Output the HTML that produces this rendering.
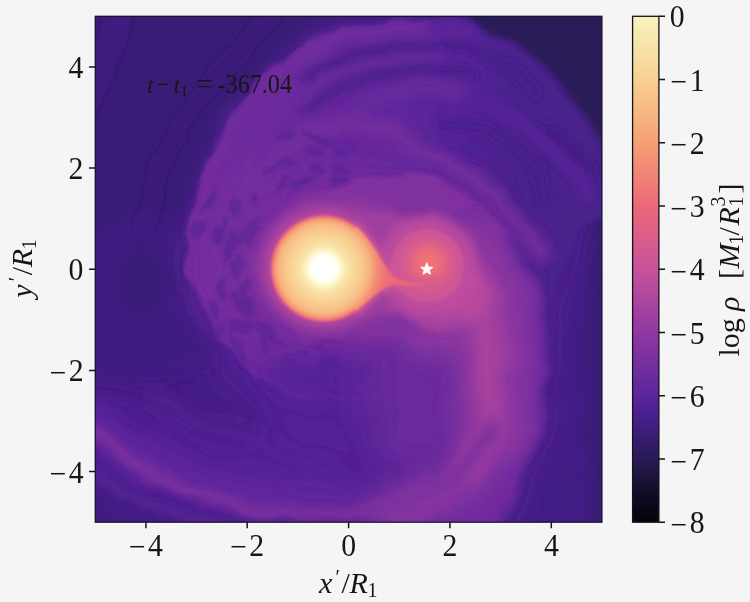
<!DOCTYPE html>
<html><head><meta charset="utf-8"><title>density plot</title>
<style>
html,body{margin:0;padding:0;background:#f5f5f5;}
body{width:750px;height:602px;overflow:hidden;position:relative;font-family:"Liberation Serif","DejaVu Serif",serif;}
svg{position:absolute;left:0;top:0;display:block}
text{font-family:"Liberation Serif","DejaVu Serif",serif;fill:#161616}
.tk{font-size:31px}
.lb{font-size:30px}
.sb{font-size:20px}
.it{font-style:italic}
</style></head><body>
<svg width="750" height="602" viewBox="0 0 750 602">
<defs>
<linearGradient id="magma" x1="0" y1="0" x2="0" y2="1">
<stop offset="0" stop-color="#f6f4bc"/><stop offset="0.125" stop-color="#f9d092"/><stop offset="0.25" stop-color="#f6a074"/><stop offset="0.375" stop-color="#ec6878"/><stop offset="0.5" stop-color="#c8529c"/><stop offset="0.625" stop-color="#9038a0"/><stop offset="0.75" stop-color="#5c259c"/><stop offset="0.78125" stop-color="#4c2190"/><stop offset="0.8125" stop-color="#3f1e80"/><stop offset="0.84375" stop-color="#331c6a"/><stop offset="0.875" stop-color="#281a55"/><stop offset="0.90625" stop-color="#1e1440"/><stop offset="0.9375" stop-color="#130c28"/><stop offset="1" stop-color="#040308"/>
</linearGradient>
<filter id="b1" filterUnits="userSpaceOnUse" x="0" y="0" width="750" height="602"><feGaussianBlur stdDeviation="0.9"/></filter>
<filter id="b2" filterUnits="userSpaceOnUse" x="0" y="0" width="750" height="602"><feGaussianBlur stdDeviation="1.8"/></filter>
<filter id="b3" filterUnits="userSpaceOnUse" x="0" y="0" width="750" height="602"><feGaussianBlur stdDeviation="3"/></filter>
<filter id="b4" filterUnits="userSpaceOnUse" x="0" y="0" width="750" height="602"><feGaussianBlur stdDeviation="4"/></filter>
<filter id="b5" filterUnits="userSpaceOnUse" x="0" y="0" width="750" height="602"><feGaussianBlur stdDeviation="5"/></filter>
<filter id="b6" filterUnits="userSpaceOnUse" x="0" y="0" width="750" height="602"><feGaussianBlur stdDeviation="6"/></filter>
<filter id="b8" filterUnits="userSpaceOnUse" x="0" y="0" width="750" height="602"><feGaussianBlur stdDeviation="8"/></filter>
<filter id="b10" filterUnits="userSpaceOnUse" x="0" y="0" width="750" height="602"><feGaussianBlur stdDeviation="11"/></filter>
<filter id="b14" filterUnits="userSpaceOnUse" x="0" y="0" width="750" height="602"><feGaussianBlur stdDeviation="15"/></filter>
<filter id="b18" filterUnits="userSpaceOnUse" x="0" y="0" width="750" height="602"><feGaussianBlur stdDeviation="20"/></filter>
<radialGradient id="pstar"><stop offset="0" stop-color="#ffffff"/><stop offset="0.17" stop-color="#ffffff"/><stop offset="0.25" stop-color="#fffff0"/><stop offset="0.33" stop-color="#fdf4c0"/><stop offset="0.436" stop-color="#f8e2a7"/><stop offset="0.58" stop-color="#f9d497"/><stop offset="0.727" stop-color="#f8c48a"/><stop offset="0.818" stop-color="#f7b682"/><stop offset="0.873" stop-color="#f6a276"/><stop offset="0.918" stop-color="#f28776"/><stop offset="0.955" stop-color="#e16183"/><stop offset="1" stop-color="#c24f9c" stop-opacity="0"/></radialGradient>
<radialGradient id="pglow"><stop offset="0" stop-color="#c24f9c"/><stop offset="0.7" stop-color="#c04e9d"/><stop offset="0.8" stop-color="#ac459e" stop-opacity="0.8"/><stop offset="1" stop-color="#9038a0" stop-opacity="0"/></radialGradient>
<radialGradient id="sglow"><stop offset="0" stop-color="#ee7077"/><stop offset="0.22" stop-color="#ec6878"/><stop offset="0.33" stop-color="#df6085"/><stop offset="0.5" stop-color="#cf5695"/><stop offset="0.58" stop-color="#c5519c"/><stop offset="0.74" stop-color="#b74a9d" stop-opacity="0.9"/><stop offset="0.86" stop-color="#ac459e" stop-opacity="0.5"/><stop offset="1" stop-color="#a1409f" stop-opacity="0"/></radialGradient>
<linearGradient id="shellg" gradientUnits="userSpaceOnUse" x1="190" y1="0" x2="600" y2="0"><stop offset="0" stop-color="#702c9e"/><stop offset="0.45" stop-color="#62279c"/><stop offset="0.62" stop-color="#572498"/><stop offset="0.8" stop-color="#4a218e"/><stop offset="1" stop-color="#47208a"/></linearGradient>
<radialGradient id="fun" gradientUnits="userSpaceOnUse" cx="324" cy="268.5" r="115"><stop offset="0.365" stop-color="#f8c289" stop-opacity="0"/><stop offset="0.400" stop-color="#f7b380" stop-opacity="1"/><stop offset="0.435" stop-color="#f59a74" stop-opacity="1"/><stop offset="0.478" stop-color="#f18476" stop-opacity="1"/><stop offset="0.548" stop-color="#ee7077" stop-opacity="1"/><stop offset="0.643" stop-color="#ec6878" stop-opacity="1"/><stop offset="0.870" stop-color="#ea677a" stop-opacity="0.9"/><stop offset="0.974" stop-color="#e8667c" stop-opacity="0.5"/></radialGradient>
<filter id="warp" filterUnits="userSpaceOnUse" x="60" y="0" width="580" height="560"><feTurbulence type="fractalNoise" baseFrequency="0.022" numOctaves="3" seed="11" result="n"/><feDisplacementMap in="SourceGraphic" in2="n" scale="16" xChannelSelector="R" yChannelSelector="G"/></filter>

<clipPath id="pc"><rect x="95" y="16" width="507" height="506"/></clipPath>
</defs>
<rect x="0" y="0" width="750" height="602" fill="#f5f5f5"/>
<!-- IMAGE -->
<g id="img" clip-path="url(#pc)">
<g filter="url(#warp)"><!--BGSTART-->
<rect x="60" y="0" width="580" height="560" fill="#48208b"/>
<g filter="url(#b14)" >
<path d="M150,300 L560,290 L548,340 L540,420 L500,540 L80,540 L80,400 Z" fill="#522395" />
</g>
<g filter="url(#b14)" >
<path d="M80,340 L200,330 L225,372 L250,400 L272,430 L240,446 L160,420 L80,390 Z" fill="#441f86" />
</g>
<g filter="url(#b8)" >
<path d="M80,0 L560,0 L560,10 L360,14 L325,24 L290,46 L262,74 L236,112 L210,150 L196,185 L186,225 L186,290 L200,330 L215,360 L150,380 L80,380 Z" fill="#411e82" />
<path d="M80,0 L560,0 L560,8 L360,12 L320,22 L285,44 L256,72 L230,110 L204,150 L180,215 L80,230 Z" fill="#391d75" />
<path d="M620,170 L620,540 L515,540 L545,470 L566,400 L566,300 L588,235 Z" fill="#431f85" />
<rect x="590" y="160" width="24" height="380" fill="#361d70"/>
<path d="M80,485 L130,540 L80,540 Z" fill="#2c1b5d" />
<ellipse cx="140" cy="283" rx="24" ry="32" fill="#391d75"/>
</g>
<g filter="url(#b6)" fill="none" stroke-linecap="round" stroke-linejoin="round">
<path d="M275,14 Q222,66 182,124 Q154,170 142,235" stroke="#3d1e7c" stroke-width="11"/>
</g>
<g filter="url(#b8)" fill="none" stroke-linecap="round" stroke-linejoin="round">
<path d="M80,120 Q100,60 120,10" stroke="#441f86" stroke-width="16"/>
</g>
<g filter="url(#b2)" >
<path d="M184,275 L187,235 L193,209 L199,186 L207,161 L228,125 L249,92 L263,72 L298,47 L330,34 L361,25 L380,22 L420,20 L467,17 L507,39 L542,66 L575,104 L612,150 L612,210 L576,232 L553,290 L552,387 L532,467 L505,540 L400,540 L400,402 L300,398 L256,377 L218,339 L197,285 Z" fill="url(#shellg)"/>
</g>
<g filter="url(#b3)" >
<path d="M464,0 L620,0 L620,166 L602,142 L575,104 L542,66 L507,39 L467,18 Z" fill="#2a1a59" />
</g>
<g filter="url(#b5)" fill="none" stroke-linecap="round" stroke-linejoin="round">
<path d="M196,240 Q200,196 216,160 Q238,120 270,78 Q300,50 338,37 Q375,29 420,27" stroke="#732e9e" stroke-width="9"/>
<path d="M420,34 Q450,30 470,30" stroke="#5f269c" stroke-width="9"/>
<path d="M330,127 Q380,92 421,88 Q450,90 470,96" stroke="#66299d" stroke-width="15"/>
<path d="M470,96 Q511,112 540,140 Q566,162 588,192" stroke="#572498" stroke-width="14"/>
<path d="M307,89 Q335,72 364,64 Q400,55 440,52" stroke="#66299d" stroke-width="9"/>
<path d="M300,80 Q321,64 378,50 Q420,44 460,46" stroke="#421f83" stroke-width="8"/>
<path d="M302,109 Q325,94 350,84 Q380,74 420,70 Q450,72 470,78" stroke="#451f88" stroke-width="8"/>
<path d="M470,52 Q505,62 535,92" stroke="#431f85" stroke-width="8"/>
<path d="M440,122 Q490,128 519,148 Q540,170 548,200" stroke="#441f86" stroke-width="7"/>
<path d="M548,126 Q575,150 592,172" stroke="#401e81" stroke-width="9"/>
<path d="M470,150 Q510,175 525,215" stroke="#49208d" stroke-width="7"/>
</g>
<g filter="url(#b18)" >
<ellipse cx="360" cy="262" rx="160" ry="92" fill="#792f9e"/>
</g>
<g filter="url(#b10)" >
<ellipse cx="300" cy="156" rx="36" ry="18" fill="#6c2b9d" transform="rotate(-30 300 156)"/>
<ellipse cx="240" cy="225" rx="28" ry="70" fill="#732e9e" transform="rotate(12 240 225)"/>
<ellipse cx="262" cy="120" rx="22" ry="50" fill="#6c2b9d" transform="rotate(40 262 120)"/>
</g>
<g filter="url(#b6)" fill="none" stroke-linecap="round" stroke-linejoin="round">
<path d="M250,205 Q262,170 307,134 Q330,124 350,124 Q380,128 400,138 Q425,148 445,162 Q480,180 505,205 Q530,228 545,255" stroke="#732e9e" stroke-width="15"/>
</g>
<g filter="url(#b10)" >
<ellipse cx="335" cy="380" rx="75" ry="24" fill="#572498" transform="rotate(5 335 380)"/>
</g>
<g filter="url(#b2)" opacity="0.5">
<ellipse cx="235.7" cy="273.4" rx="3.9" ry="5.5" fill="#4f2292" transform="rotate(-1 235.7 273.4)"/>
<ellipse cx="240.9" cy="263.4" rx="3.5" ry="5.3" fill="#4f2292"/>
<ellipse cx="262.6" cy="327.4" rx="3.3" ry="10.8" fill="#4f2292" transform="rotate(-63 262.6 327.4)"/>
<ellipse cx="215.3" cy="306.5" rx="4.7" ry="9.0" fill="#4f2292" transform="rotate(-24 215.3 306.5)"/>
<ellipse cx="340.0" cy="187.5" rx="4.4" ry="7.0" fill="#4f2292" transform="rotate(83 340.0 187.5)"/>
<ellipse cx="245.5" cy="325.9" rx="4.3" ry="6.3" fill="#4f2292" transform="rotate(-32 245.5 325.9)"/>
<ellipse cx="255.5" cy="194.5" rx="3.6" ry="5.4" fill="#4f2292" transform="rotate(25 255.5 194.5)"/>
<ellipse cx="214.5" cy="312.8" rx="3.3" ry="7.2" fill="#4f2292" transform="rotate(-18 214.5 312.8)"/>
<ellipse cx="231.7" cy="239.4" rx="4.3" ry="9.9" fill="#4f2292" transform="rotate(5 231.7 239.4)"/>
<ellipse cx="236.5" cy="202.8" rx="4.5" ry="10.1" fill="#4f2292" transform="rotate(26 236.5 202.8)"/>
<ellipse cx="341.8" cy="183.7" rx="3.3" ry="10.3" fill="#4f2292" transform="rotate(84 341.8 183.7)"/>
<ellipse cx="248.5" cy="236.1" rx="3.9" ry="10.4" fill="#4f2292" transform="rotate(27 248.5 236.1)"/>
<ellipse cx="315.6" cy="171.3" rx="4.0" ry="9.2" fill="#4f2292" transform="rotate(89 315.6 171.3)"/>
<ellipse cx="203.2" cy="229.3" rx="4.7" ry="8.3" fill="#4f2292" transform="rotate(26 203.2 229.3)"/>
<ellipse cx="240.1" cy="353.3" rx="3.9" ry="12.0" fill="#4f2292" transform="rotate(-29 240.1 353.3)"/>
<ellipse cx="223.8" cy="285.2" rx="3.9" ry="5.2" fill="#4f2292" transform="rotate(-11 223.8 285.2)"/>
<ellipse cx="247.7" cy="309.3" rx="2.4" ry="10.4" fill="#4f2292" transform="rotate(-47 247.7 309.3)"/>
<ellipse cx="225.8" cy="295.5" rx="4.5" ry="5.6" fill="#4f2292" transform="rotate(-18 225.8 295.5)"/>
<ellipse cx="215.3" cy="198.2" rx="4.3" ry="11.0" fill="#4f2292" transform="rotate(22 215.3 198.2)"/>
<ellipse cx="225.9" cy="248.6" rx="4.5" ry="11.7" fill="#4f2292" transform="rotate(-6 225.9 248.6)"/>
<ellipse cx="241.0" cy="310.4" rx="2.8" ry="8.4" fill="#4f2292" transform="rotate(-22 241.0 310.4)"/>
<ellipse cx="245.8" cy="286.5" rx="3.3" ry="7.6" fill="#4f2292" transform="rotate(-10 245.8 286.5)"/>
<ellipse cx="339.5" cy="150.8" rx="3.5" ry="9.3" fill="#4f2292" transform="rotate(106 339.5 150.8)"/>
<ellipse cx="234.0" cy="362.9" rx="4.2" ry="11.1" fill="#4f2292" transform="rotate(-31 234.0 362.9)"/>
<ellipse cx="222.6" cy="254.6" rx="2.5" ry="9.4" fill="#4f2292" transform="rotate(-14 222.6 254.6)"/>
<ellipse cx="258.3" cy="332.5" rx="2.6" ry="7.4" fill="#4f2292" transform="rotate(-67 258.3 332.5)"/>
<ellipse cx="273.2" cy="340.9" rx="2.5" ry="7.5" fill="#4f2292" transform="rotate(-79 273.2 340.9)"/>
<ellipse cx="313.8" cy="154.6" rx="2.6" ry="6.8" fill="#4f2292" transform="rotate(77 313.8 154.6)"/>
<ellipse cx="237.3" cy="263.6" rx="4.4" ry="12.0" fill="#4f2292" transform="rotate(2 237.3 263.6)"/>
<ellipse cx="245.6" cy="236.2" rx="2.5" ry="7.4" fill="#4f2292" transform="rotate(11 245.6 236.2)"/>
<ellipse cx="304.9" cy="181.5" rx="2.3" ry="11.7" fill="#4f2292" transform="rotate(79 304.9 181.5)"/>
<ellipse cx="229.9" cy="326.3" rx="2.3" ry="8.7" fill="#4f2292" transform="rotate(-8 229.9 326.3)"/>
<ellipse cx="309.8" cy="150.4" rx="2.9" ry="7.6" fill="#4f2292" transform="rotate(66 309.8 150.4)"/>
<ellipse cx="283.8" cy="166.3" rx="4.2" ry="7.3" fill="#4f2292" transform="rotate(55 283.8 166.3)"/>
<ellipse cx="288.7" cy="138.0" rx="4.4" ry="10.6" fill="#4f2292" transform="rotate(91 288.7 138.0)"/>
<ellipse cx="282.5" cy="185.6" rx="3.5" ry="7.5" fill="#4f2292" transform="rotate(40 282.5 185.6)"/>
<ellipse cx="263.2" cy="342.3" rx="2.9" ry="9.8" fill="#4f2292" transform="rotate(-28 263.2 342.3)"/>
<ellipse cx="197.0" cy="230.8" rx="4.8" ry="11.7" fill="#4f2292" transform="rotate(10 197.0 230.8)"/>
<ellipse cx="236.7" cy="299.8" rx="2.7" ry="6.4" fill="#4f2292" transform="rotate(-14 236.7 299.8)"/>
<ellipse cx="321.9" cy="141.5" rx="3.4" ry="9.6" fill="#4f2292" transform="rotate(104 321.9 141.5)"/>
<ellipse cx="236.3" cy="345.9" rx="4.6" ry="10.5" fill="#4f2292" transform="rotate(-29 236.3 345.9)"/>
<ellipse cx="240.3" cy="235.5" rx="4.3" ry="7.3" fill="#4f2292" transform="rotate(37 240.3 235.5)"/>
<ellipse cx="342.6" cy="168.0" rx="3.2" ry="11.6" fill="#4f2292" transform="rotate(112 342.6 168.0)"/>
<ellipse cx="246.9" cy="309.1" rx="2.6" ry="11.3" fill="#4f2292" transform="rotate(-12 246.9 309.1)"/>
<ellipse cx="216.5" cy="334.7" rx="4.7" ry="9.6" fill="#4f2292" transform="rotate(-39 216.5 334.7)"/>
<ellipse cx="250.6" cy="221.2" rx="2.2" ry="11.8" fill="#4f2292" transform="rotate(40 250.6 221.2)"/>
<ellipse cx="208.6" cy="203.9" rx="3.3" ry="11.1" fill="#4f2292" transform="rotate(46 208.6 203.9)"/>
<ellipse cx="236.3" cy="302.6" rx="3.0" ry="6.7" fill="#4f2292" transform="rotate(-17 236.3 302.6)"/>
<ellipse cx="223.4" cy="292.7" rx="2.5" ry="11.4" fill="#4f2292" transform="rotate(-21 223.4 292.7)"/>
<ellipse cx="217.0" cy="233.1" rx="4.6" ry="7.9" fill="#4f2292" transform="rotate(39 217.0 233.1)"/>
<ellipse cx="224.7" cy="221.6" rx="3.6" ry="5.1" fill="#4f2292" transform="rotate(22 224.7 221.6)"/>
<ellipse cx="251.7" cy="303.3" rx="4.3" ry="6.2" fill="#4f2292" transform="rotate(-27 251.7 303.3)"/>
<ellipse cx="270.2" cy="171.2" rx="3.0" ry="8.6" fill="#4f2292" transform="rotate(64 270.2 171.2)"/>
<ellipse cx="295.3" cy="187.5" rx="3.7" ry="6.7" fill="#4f2292" transform="rotate(59 295.3 187.5)"/>
<ellipse cx="284.4" cy="167.6" rx="3.7" ry="10.3" fill="#4f2292" transform="rotate(89 284.4 167.6)"/>
<ellipse cx="214.1" cy="237.1" rx="3.5" ry="8.6" fill="#4f2292" transform="rotate(26 214.1 237.1)"/>
<ellipse cx="219.1" cy="235.7" rx="3.4" ry="11.6" fill="#4f2292" transform="rotate(27 219.1 235.7)"/>
<ellipse cx="313.0" cy="136.2" rx="2.9" ry="8.9" fill="#4f2292" transform="rotate(107 313.0 136.2)"/>
<ellipse cx="307.9" cy="182.3" rx="2.5" ry="8.1" fill="#4f2292" transform="rotate(58 307.9 182.3)"/>
<ellipse cx="243.4" cy="292.4" rx="3.9" ry="10.5" fill="#4f2292" transform="rotate(3 243.4 292.4)"/>
<ellipse cx="220.3" cy="329.1" rx="3.9" ry="6.0" fill="#4f2292" transform="rotate(-11 220.3 329.1)"/>
<ellipse cx="339.7" cy="177.6" rx="4.7" ry="7.8" fill="#4f2292" transform="rotate(99 339.7 177.6)"/>
<ellipse cx="353.3" cy="145.3" rx="2.6" ry="8.0" fill="#4f2292" transform="rotate(104 353.3 145.3)"/>
<ellipse cx="233.0" cy="269.7" rx="3.0" ry="10.1" fill="#4f2292" transform="rotate(-25 233.0 269.7)"/>
<ellipse cx="236.9" cy="210.5" rx="2.2" ry="7.3" fill="#4f2292" transform="rotate(40 236.9 210.5)"/>
<ellipse cx="249.5" cy="230.6" rx="4.8" ry="10.5" fill="#4f2292" transform="rotate(51 249.5 230.6)"/>
<ellipse cx="249.5" cy="327.2" rx="2.3" ry="10.5" fill="#4f2292" transform="rotate(-50 249.5 327.2)"/>
<ellipse cx="238.3" cy="326.9" rx="4.6" ry="10.7" fill="#4f2292" transform="rotate(-46 238.3 326.9)"/>
<ellipse cx="211.4" cy="336.4" rx="3.7" ry="9.9" fill="#4f2292" transform="rotate(-52 211.4 336.4)"/>
<ellipse cx="241.4" cy="353.5" rx="3.3" ry="5.5" fill="#4f2292" transform="rotate(-24 241.4 353.5)"/>
<ellipse cx="268" cy="335" rx="7" ry="3" fill="#4f2292" transform="rotate(10 268 335)"/>
<ellipse cx="300" cy="350" rx="8" ry="3.5" fill="#4f2292"/>
<ellipse cx="335" cy="362" rx="10" ry="4" fill="#4f2292"/>
<ellipse cx="362" cy="372" rx="9" ry="3.5" fill="#4f2292"/>
<ellipse cx="398" cy="328" rx="9" ry="6" fill="#4f2292"/>
<ellipse cx="318" cy="345" rx="6" ry="3" fill="#4f2292"/>
<ellipse cx="285" cy="358" rx="7" ry="3" fill="#4f2292" transform="rotate(15 285 358)"/>
</g>
<g filter="url(#b18)" >
<ellipse cx="425" cy="385" rx="60" ry="95" fill="#692a9d"/>
</g>
<g filter="url(#b14)" >
<ellipse cx="372" cy="264" rx="116" ry="54" fill="#9339a0"/>
<ellipse cx="445" cy="305" rx="58" ry="50" fill="#963ba0"/>
</g>
<g filter="url(#b5)" >
<path d="M262,262 Q262,228 290,205 Q310,193 330,194 Q352,184 375,179 Q398,176 420,179 Q445,184 465,197 Q483,211 497,230 Q509,248 515,265 Q522,282 523,305 L500,335 L300,335 Z" fill="#80329f" />
</g>
<g filter="url(#b3)" fill="none" stroke-linecap="round" stroke-linejoin="round">
<path d="M330,194 Q352,184 375,179 Q398,176 420,179 Q445,184 465,197 Q483,211 497,230 Q509,248 515,265 Q521,280 523,300" stroke="#8a36a0" stroke-width="4"/>
</g>
<g filter="url(#b5)" >
<path d="M350,216 L406,221 L435,216 L468,224 L491,244 L508,278 L518,308 L505,335 L440,330 L350,300 Z" fill="#a6429e" />
</g>
<g filter="url(#b8)" >
<ellipse cx="345" cy="262" rx="80" ry="56" fill="#a1409f"/>
</g>
<g filter="url(#b4)" >
<path d="M477,200 L514,247 L536,284 L543,328 L547,375 L540,420 L525,467 L500,530 L440,530 L470,467 L490,420 L496,375 L494,328 L486,284 L466,247 L440,222 Z" fill="#702c9e" />
</g>
<g filter="url(#b10)" fill="none" stroke-linecap="round" stroke-linejoin="round">
<path d="M80,418 L95,428 Q120,446 149,460 Q175,471 203,479 Q230,487 257,493 Q285,498 311,501 Q340,502 365,501 Q395,496 419,487 Q445,475 462,460" stroke="#64289d" stroke-width="26"/>
<path d="M150,395 Q220,440 330,470" stroke="#562397" stroke-width="12"/>
<path d="M490,423 Q482,462 455,488 Q425,510 390,518" stroke="#712d9e" stroke-width="60"/>
<path d="M466,250 Q490,285 492,330 Q498,380 490,430" stroke="#86349f" stroke-width="74"/>
<path d="M489,423 Q482,456 458,482 Q428,506 392,516" stroke="#8b36a0" stroke-width="30"/>
<path d="M468,258 Q486,290 488,330 Q495,380 489,423 Q484,445 472,465" stroke="#9339a0" stroke-width="42"/>
</g>
<g filter="url(#b8)" fill="none" stroke-linecap="round" stroke-linejoin="round">
<path d="M474,280 Q486,300 487,330 Q493,380 488,420" stroke="#ac459e" stroke-width="20"/>
<path d="M488,420 Q484,445 470,468" stroke="#9b3d9f" stroke-width="16"/>
</g>
<g filter="url(#b8)" >
<ellipse cx="462" cy="294" rx="24" ry="30" fill="#ba4c9d"/>
</g>
<g filter="url(#b5)" fill="none" stroke-linecap="round" stroke-linejoin="round">
<path d="M80,428 L95,438 Q120,457 149,472 Q175,484 203,494 Q230,502 257,508 Q285,513 311,514.5 Q340,515 365,513 Q395,508 419,498 Q445,486 462,470 Q480,450 489,432" stroke="#7b309e" stroke-width="12"/>
</g>
<g filter="url(#b6)" opacity="0.8">
<path d="M80,462 Q150,502 230,520 Q300,530 380,530 L380,540 L80,540 Z" fill="#3f1e80" />
</g>
<g filter="url(#b4)" fill="none" stroke-linecap="round" stroke-linejoin="round">
<path d="M80,470 Q120,496 170,512 Q200,520 230,526" stroke="#5c259c" stroke-width="7"/>
</g>
</g>
<circle cx="324" cy="268.5" r="72" fill="url(#pglow)"/>
<g filter="url(#b5)" >
<circle cx="428" cy="266" r="50" fill="#be4d9d" opacity="0.85"/>
</g>
<g filter="url(#b2)" >
<circle cx="427.3" cy="266" r="37" fill="#cd5597"/>
</g>
<g filter="url(#b4)" >
<circle cx="427.8" cy="265" r="28" fill="#d65b8e"/>
</g>
<g filter="url(#b4)" >
<circle cx="428.2" cy="263.5" r="20" fill="#e5647f"/>
</g>
<g filter="url(#b4)" >
<circle cx="428.4" cy="263" r="13" fill="#ee7377"/>
</g>
<g filter="url(#b3)" >
<path d="M344,242 L356.5,227 Q368,238 377,252 Q385,267 393,276 Q402,281.5 414,283 Q424,283.3 430,281 Q433,279 434,276 Q432,283 422,285.2 Q408,286 395,284.5 Q386,286 376,294 Q365,303 356.5,311 L344,296 Z" fill="#d35991" stroke="#d35991" stroke-width="5"/>
</g>
<circle cx="324" cy="268.5" r="55" fill="url(#pstar)"/>
<g filter="url(#b1)" >
<path d="M344,242 L356.5,227 Q368,238 377,252 Q385,267 393,276 Q402,281.5 414,283 Q424,283.3 430,281 Q433,279 434,276 Q432,283 422,285.2 Q408,286 395,284.5 Q386,286 376,294 Q365,303 356.5,311 L344,296 Z" fill="url(#fun)"/>
</g>
<path d="M426.8,263.2 L428.3,267.1 L432.4,267.3 L429.2,269.9 L430.3,273.9 L426.8,271.6 L423.3,273.9 L424.4,269.9 L421.2,267.3 L425.3,267.1 Z" fill="#fff8f6" stroke="#fff8f6" stroke-width="1.3" stroke-linejoin="round"/>

</g>
<!-- axes frame -->
<rect x="95.3" y="16.3" width="506.6" height="505.9" fill="none" stroke="#1c1230" stroke-width="1.3"/>
<!-- colorbar -->
<rect x="632.6" y="16.3" width="26.3" height="505.9" fill="url(#magma)" stroke="#15121c" stroke-width="1.3"/>
<g stroke="#161616" stroke-width="1.5">
<path d="M145.9 522v6.2M247.2 522v6.2M348.6 522v6.2M449.9 522v6.2M551.3 522v6.2"/>
<path d="M95 66.9h-6M95 168h-6M95 269.2h-6M95 370.4h-6M95 471.6h-6"/>
<path d="M659 16.3h6M659 79.5h6M659 142.8h6M659 206h6M659 269.2h6M659 332.5h6M659 395.7h6M659 459h6M659 522.2h6"/>
</g>
<g class="tk" text-anchor="middle" transform="scale(0.96,1)">
<text x="153.0" y="555.7"><tspan dy="1.6" dx="-1.2">−</tspan><tspan dy="-1.6" dx="2.6">4</tspan></text><text x="258.5" y="555.7"><tspan dy="1.6" dx="-1.2">−</tspan><tspan dy="-1.6" dx="2.6">2</tspan></text><text x="363.1" y="555.7">0</text><text x="468.6" y="555.7">2</text><text x="574.3" y="555.7">4</text>
</g>
<g class="tk" text-anchor="end" transform="scale(0.96,1)">
<text x="86.8" y="78.0">4</text><text x="86.8" y="179.1">2</text><text x="86.8" y="280.3">0</text><text x="88.4" y="381.5"><tspan dy="1.6" dx="-1.2">−</tspan><tspan dy="-1.6" dx="2.6">2</tspan></text><text x="88.4" y="482.7"><tspan dy="1.6" dx="-1.2">−</tspan><tspan dy="-1.6" dx="2.6">4</tspan></text>
</g>
<g class="tk" text-anchor="start" transform="scale(0.96,1)">
<text x="697.7" y="27.4">0</text><text x="699.5" y="90.6"><tspan dy="1.6" dx="-1.2">−</tspan><tspan dy="-1.6" dx="2.6">1</tspan></text><text x="699.5" y="153.9"><tspan dy="1.6" dx="-1.2">−</tspan><tspan dy="-1.6" dx="2.6">2</tspan></text><text x="699.5" y="217.1"><tspan dy="1.6" dx="-1.2">−</tspan><tspan dy="-1.6" dx="2.6">3</tspan></text><text x="699.5" y="280.4"><tspan dy="1.6" dx="-1.2">−</tspan><tspan dy="-1.6" dx="2.6">4</tspan></text><text x="699.5" y="343.6"><tspan dy="1.6" dx="-1.2">−</tspan><tspan dy="-1.6" dx="2.6">5</tspan></text><text x="699.5" y="406.8"><tspan dy="1.6" dx="-1.2">−</tspan><tspan dy="-1.6" dx="2.6">6</tspan></text><text x="699.5" y="470.1"><tspan dy="1.6" dx="-1.2">−</tspan><tspan dy="-1.6" dx="2.6">7</tspan></text><text x="699.5" y="533.3"><tspan dy="1.6" dx="-1.2">−</tspan><tspan dy="-1.6" dx="2.6">8</tspan></text>
</g>
<!-- x label -->
<g class="lb" transform="translate(319,592.8)">
<text x="0" y="0" class="it">x</text><text x="16.5" y="-9" class="sb">′</text><text x="22.5" y="0">/</text><text x="30.5" y="0" class="it">R</text><text x="48.5" y="3.8" class="sb">1</text>
</g>
<!-- y label -->
<g class="lb" transform="translate(32.4,297.8) rotate(-90)">
<text x="0" y="0" class="it">y</text><text x="16.5" y="-9" class="sb">′</text><text x="22.5" y="0">/</text><text x="30.5" y="0" class="it">R</text><text x="48.5" y="3.8" class="sb">1</text>
</g>
<!-- colorbar label -->
<g class="lb" transform="translate(738.8,356.5) rotate(-90)">
<text x="0" y="0">log</text><text x="45.5" y="0" class="it">ρ</text><text x="77.5" y="0">[</text><text x="88" y="0" class="it">M</text><text x="112" y="4.2" class="sb">1</text><text x="121" y="0">/</text><text x="131" y="0" class="it">R</text><text x="150" y="-13.8" class="sb">3</text><text x="150" y="4.2" class="sb">1</text><text x="163" y="0">]</text>
</g>
<!-- annotation -->
<g font-size="26.5" fill="#14102a">
<text x="147" y="92.5" class="it" font-size="24" fill="#14102a">t</text><text x="157.5" y="92.5" fill="#14102a" textLength="11.5" lengthAdjust="spacingAndGlyphs">−</text><text x="173.6" y="92.5" class="it" font-size="24" fill="#14102a">t</text><text x="180.3" y="96.3" font-size="15.5" fill="#14102a">1</text><text x="196" y="92.5" fill="#14102a" textLength="17" lengthAdjust="spacingAndGlyphs">=</text><text x="217.5" y="92.5" fill="#14102a" textLength="74.5" lengthAdjust="spacingAndGlyphs">-367.04</text>
</g>
</svg>
</body></html>
